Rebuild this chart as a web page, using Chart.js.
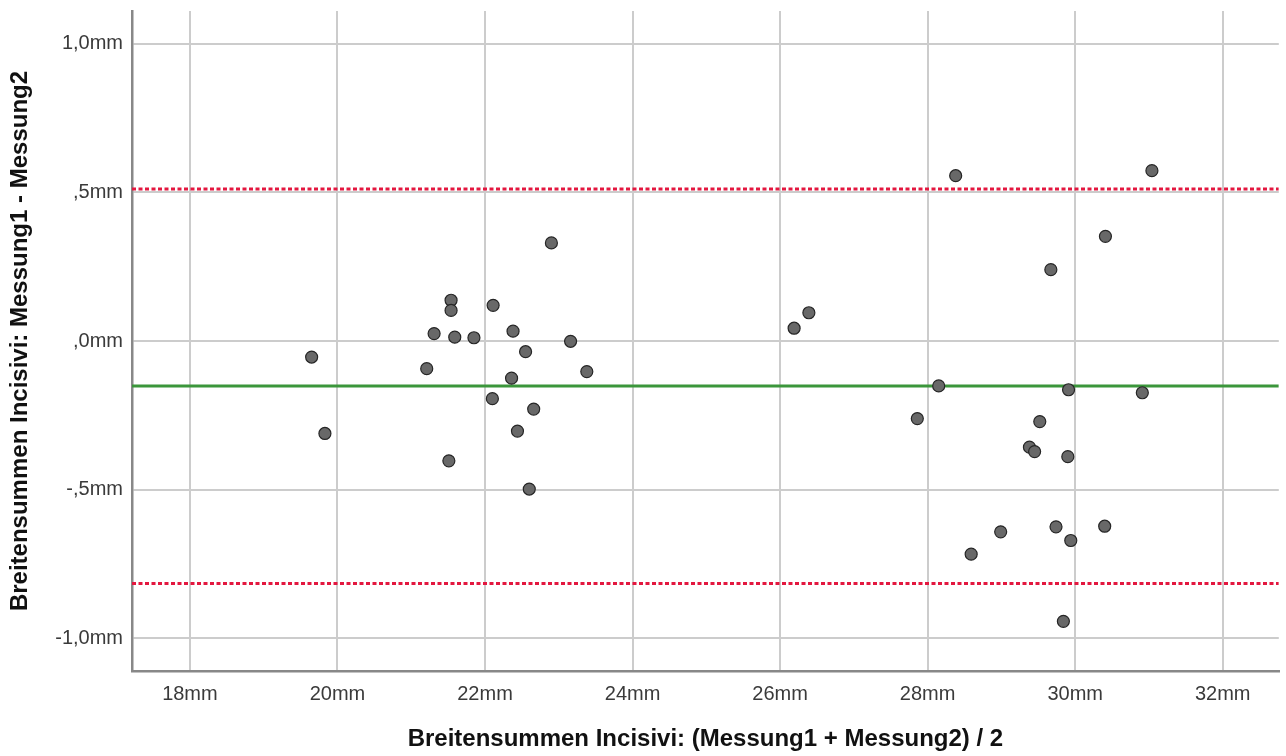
<!DOCTYPE html>
<html>
<head>
<meta charset="utf-8">
<script src="https://cdn.jsdelivr.net/npm/chart.js@4/dist/chart.umd.min.js"></script>
<style>
  body { margin: 0; background: #fff; }
</style>
</head>
<body>
<canvas id="blandAltman" width="1286" height="756"></canvas>
<script>
  // mean of both measurements (x) and their difference (y), in mm
  var meanVals = [19.65, 19.83, 21.21, 21.31, 21.54, 21.54, 21.59, 21.51, 21.85, 22.11,
    22.10, 22.38, 22.36, 22.55, 22.44, 22.66, 22.60, 22.90, 23.16, 23.38,
    26.19, 26.39, 28.38, 27.86, 28.15, 29.67, 29.52, 29.91, 30.41, 31.04,
    30.91, 29.38, 29.45, 29.90, 28.99, 28.59, 29.74, 29.94, 30.40, 29.84];
  var diffVals = [-0.054, -0.311, -0.093, 0.025, 0.137, 0.103, 0.013, -0.403, 0.011, 0.120,
    -0.194, 0.033, -0.125, -0.036, -0.303, -0.229, -0.498, 0.330, -0.001, -0.103,
    0.043, 0.095, 0.556, -0.261, -0.151, 0.240, -0.271, -0.164, 0.352, 0.573,
    -0.174, -0.357, -0.372, -0.389, -0.642, -0.717, -0.625, -0.671, -0.623, -0.943];

  var meanDiff = -0.151;
  var upperLoA = 0.511;
  var lowerLoA = -0.816;

  var xTicks = [18, 20, 22, 24, 26, 28, 30, 32];
  var xTickLabels = ['18mm', '20mm', '22mm', '24mm', '26mm', '28mm', '30mm', '32mm'];
  var yTicks = [-1, -0.5, 0, 0.5, 1];
  var yTickLabels = ['-1,0mm', '-,5mm', ',0mm', ',5mm', '1,0mm'];

  var xMin = 17.215, xMax = 32.76;
  var yMin = -1.11, yMax = 1.11;

  var points = meanVals.map((m, i) => ({ x: m, y: diffVals[i] }));
  function hline(v) { return [{ x: xMin, y: v }, { x: xMax, y: v }]; }

  var fontFam = "'Liberation Sans', Arial, sans-serif";

  var ctx = document.getElementById('blandAltman');
  var chart = new Chart(ctx, {
    type: 'scatter',
    data: {
      datasets: [
        {
          label: 'Differenz',
          data: points,
          backgroundColor: '#686868',
          borderColor: '#262626',
          borderWidth: 1.2,
          pointRadius: 6,
          order: 0
        },
        {
          type: 'line',
          label: 'Mittelwert',
          data: hline(meanDiff),
          borderColor: '#3b963b',
          borderWidth: 3,
          pointRadius: 0,
          order: 1
        },
        {
          type: 'line',
          label: 'Obere Grenze',
          data: hline(upperLoA),
          borderColor: '#e3173f',
          borderWidth: 3,
          borderDash: [4, 2.5],
          pointRadius: 0,
          order: 1
        },
        {
          type: 'line',
          label: 'Untere Grenze',
          data: hline(lowerLoA),
          borderColor: '#e3173f',
          borderWidth: 3,
          borderDash: [4, 2.5],
          pointRadius: 0,
          order: 1
        }
      ]
    },
    options: {
      responsive: false,
      animation: false,
      layout: { padding: { top: 11, right: 7, left: 0, bottom: 0 } },
      plugins: {
        legend: { display: false },
        tooltip: { enabled: false }
      },
      scales: {
        x: {
          type: 'linear',
          min: xMin,
          max: xMax,
          afterBuildTicks: (scale) => { scale.ticks = xTicks.map(v => ({ value: v })); },
          afterFit: (scale) => { scale.height = 85; },
          grid: { color: '#cccccc', lineWidth: 2, drawTicks: false },
          border: { color: '#888888', width: 2.5 },
          ticks: {
            padding: 11,
            color: '#3a3a3a',
            font: { family: fontFam, size: 20 },
            callback: (v) => xTickLabels[xTicks.indexOf(v)]
          },
          title: {
            display: true,
            text: 'Breitensummen Incisivi: (Messung1 + Messung2) / 2',
            color: '#111',
            padding: { top: 0, bottom: 2 },
            font: { family: fontFam, size: 24, weight: 'bold' }
          }
        },
        y: {
          type: 'linear',
          min: yMin,
          max: yMax,
          afterBuildTicks: (scale) => { scale.ticks = yTicks.map(v => ({ value: v })); },
          afterFit: (scale) => {
            scale.width = 132;
            scale.paddingTop = 0;
            scale.paddingBottom = 0;
          },
          grid: { color: '#cccccc', lineWidth: 2, drawTicks: false },
          border: { color: '#888888', width: 2.5 },
          ticks: {
            padding: 9,
            color: '#3a3a3a',
            font: { family: fontFam, size: 20 },
            callback: (v) => yTickLabels[yTicks.indexOf(v)]
          },
          title: {
            display: true,
            text: 'Breitensummen Incisivi: Messung1 - Messung2',
            color: '#111',
            padding: { top: 6, bottom: 0 },
            font: { family: fontFam, size: 24, weight: 'bold' }
          }
        }
      }
    }
  });
</script>
</body>
</html>
